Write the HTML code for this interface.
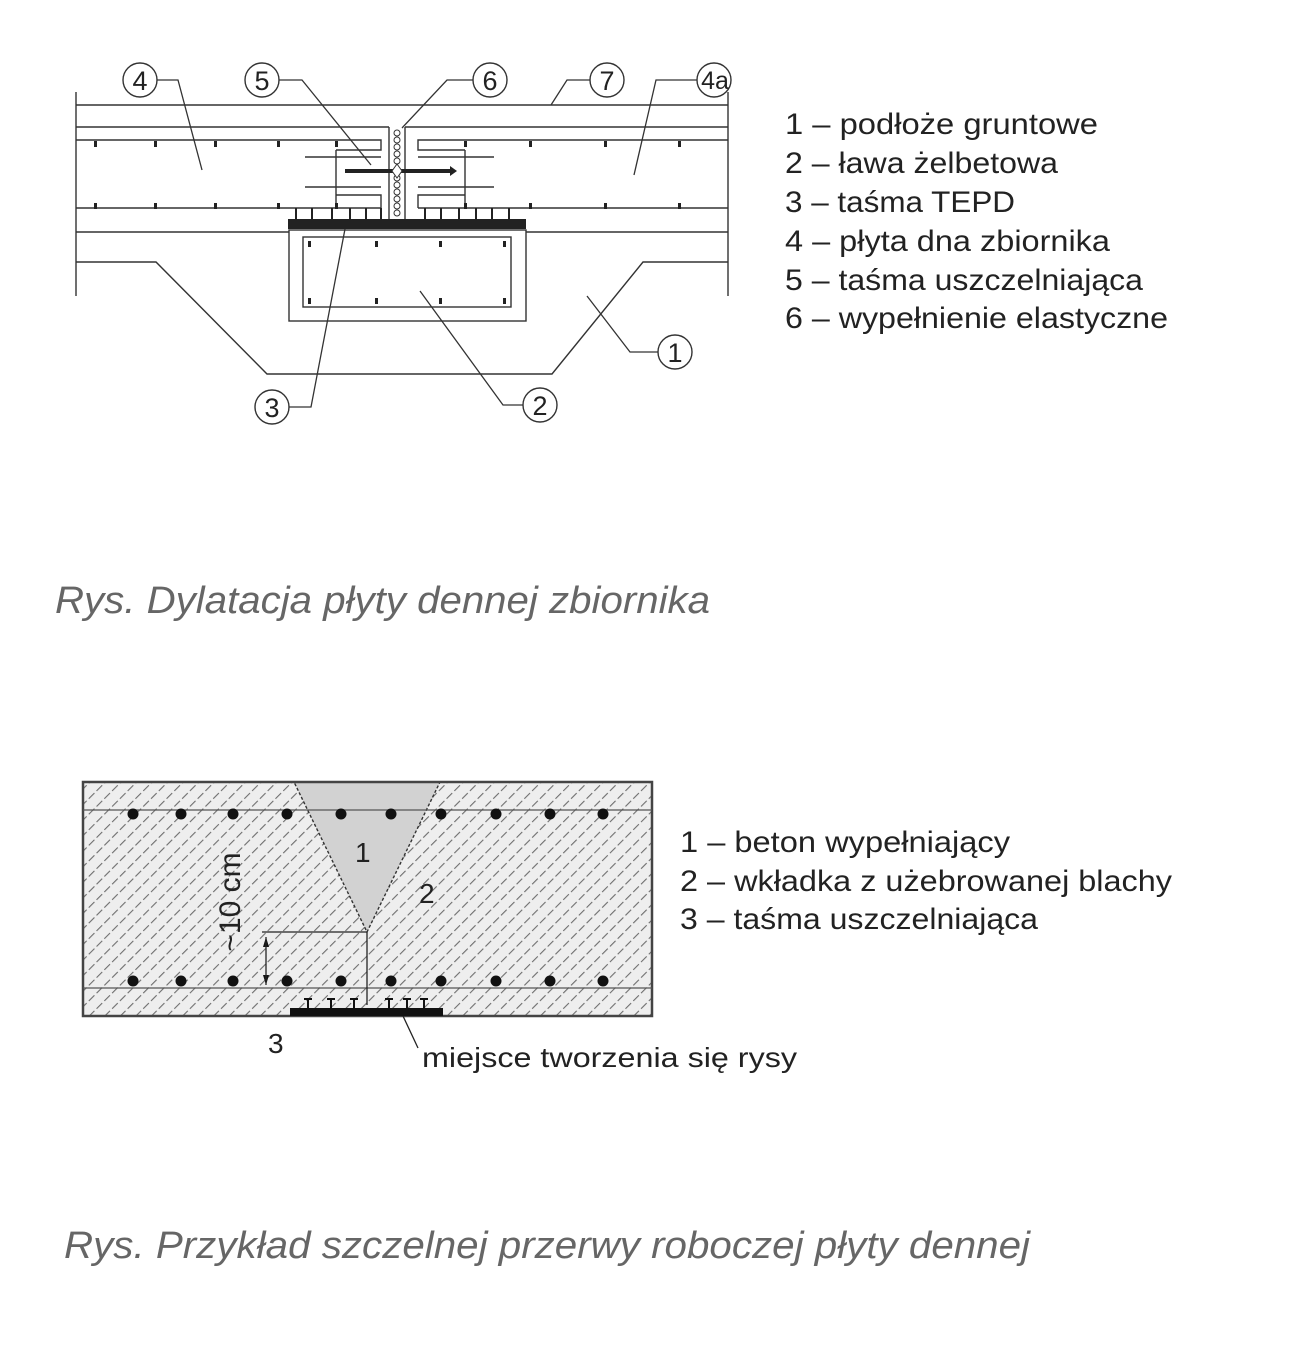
<!DOCTYPE html>
<html><head><meta charset="utf-8"><style>
html,body{margin:0;padding:0;background:#fff;}
svg{display:block}
</style></head><body>
<svg width="1290" height="1350" viewBox="0 0 1290 1350" xmlns="http://www.w3.org/2000/svg" font-family="Liberation Sans, sans-serif">
<defs>
<pattern id="h" width="11" height="11" patternUnits="userSpaceOnUse" patternTransform="rotate(45)">
<line x1="0" y1="0" x2="0" y2="11" stroke="#6e6e6e" stroke-width="2.2" stroke-dasharray="7 3"/>
</pattern>
</defs>
<g stroke="#333" stroke-width="1.4" fill="none">
<line x1="76" y1="92" x2="76" y2="296"/>
<line x1="728" y1="92" x2="728" y2="296"/>
<line x1="76" y1="105" x2="728" y2="105"/>
<line x1="76" y1="127" x2="389" y2="127"/>
<line x1="405" y1="127" x2="728" y2="127"/>
<path d="M76 140 H381 V150 H336"/>
<path d="M728 140 H418 V150 H465"/>
<line x1="305" y1="157" x2="381" y2="157"/>
<line x1="418" y1="157" x2="494" y2="157"/>
<line x1="305" y1="187" x2="381" y2="187"/>
<line x1="418" y1="187" x2="494" y2="187"/>
<path d="M336 195 H381 V208"/>
<path d="M465 195 H418 V208"/>
<line x1="336" y1="150" x2="336" y2="208"/>
<line x1="465" y1="150" x2="465" y2="208"/>
<line x1="76" y1="208" x2="381" y2="208"/>
<line x1="418" y1="208" x2="728" y2="208"/>
<line x1="76" y1="232" x2="289" y2="232"/>
<line x1="526" y1="232" x2="728" y2="232"/>
<rect x="289" y="230" width="237" height="91"/>
<rect x="303" y="237" width="208" height="70"/>
<path d="M76 262 H156 L267 374 H552 L643 262 H728"/>
<line x1="389" y1="127" x2="389" y2="220"/>
<line x1="405" y1="127" x2="405" y2="220"/>
</g>
<g fill="#222">
<g id="tk">
<rect x="94" y="141" width="3" height="6"/><rect x="154" y="141" width="3" height="6"/><rect x="214" y="141" width="3" height="6"/><rect x="277" y="141" width="3" height="6"/><rect x="335" y="141" width="3" height="6"/><rect x="464" y="141" width="3" height="6"/><rect x="529" y="141" width="3" height="6"/><rect x="604" y="141" width="3" height="6"/><rect x="678" y="141" width="3" height="6"/>
</g>
<use href="#tk" y="62"/>
<rect x="375" y="241" width="3" height="6"/><rect x="439" y="241" width="3" height="6"/><rect x="308" y="241" width="3" height="6"/><rect x="503" y="241" width="3" height="6"/>
<rect x="308" y="298" width="3" height="6"/><rect x="375" y="298" width="3" height="6"/><rect x="439" y="298" width="3" height="6"/><rect x="503" y="298" width="3" height="6"/>
<rect x="288" y="219" width="238" height="10"/>
<rect x="295" y="208" width="2" height="11"/><rect x="311" y="208" width="2" height="11"/><rect x="331" y="208" width="2" height="11"/><rect x="349" y="208" width="2" height="11"/><rect x="365" y="208" width="2" height="11"/><rect x="380" y="208" width="2" height="11"/>
<rect x="424" y="208" width="2" height="11"/><rect x="440" y="208" width="2" height="11"/><rect x="458" y="208" width="2" height="11"/><rect x="475" y="208" width="2" height="11"/><rect x="491" y="208" width="2" height="11"/><rect x="508" y="208" width="2" height="11"/>
<rect x="345" y="169" width="106" height="4"/>
<polygon points="450,166 457,171 450,176"/>
</g>
<g fill="#fff" stroke="#333" stroke-width="1">
<circle cx="397" cy="133" r="3"/><circle cx="397" cy="140" r="3"/><circle cx="397" cy="147" r="3"/><circle cx="397" cy="154" r="3"/><circle cx="397" cy="161" r="3"/><circle cx="397" cy="178" r="3"/><circle cx="397" cy="185" r="3"/><circle cx="397" cy="192" r="3"/><circle cx="397" cy="199" r="3"/><circle cx="397" cy="206" r="3"/><circle cx="397" cy="213" r="3"/>
<polygon points="397,164 402,171 397,178 392,171"/>
</g>
<g stroke="#333" stroke-width="1.3" fill="none">
<path d="M157 80 H178 L202 170"/>
<path d="M279 80 H302 L371 165"/>
<path d="M473 80 H447 L402 128"/>
<path d="M590 80 H567 L551 105"/>
<path d="M697 80 H656 L634 175"/>
<path d="M658 352 H630 L587 296"/>
<path d="M289 407 H311 L345 229"/>
<path d="M523 405 H503 L420 291"/>
</g>
<g fill="#fff" stroke="#333" stroke-width="1.4">
<circle cx="140" cy="80" r="17"/><circle cx="262" cy="80" r="17"/><circle cx="490" cy="80" r="17"/><circle cx="607" cy="80" r="17"/><circle cx="714" cy="80" r="17"/><circle cx="675" cy="352" r="17"/><circle cx="272" cy="407" r="17"/><circle cx="540" cy="405" r="17"/>
</g>
<g font-size="27" fill="#222" text-anchor="middle">
<text x="140" y="90">4</text><text x="262" y="90">5</text><text x="490" y="90">6</text><text x="607" y="90">7</text><text x="715" y="89" font-size="25">4a</text><text x="675" y="362">1</text><text x="272" y="417">3</text><text x="540" y="415">2</text>
</g>
<g font-size="30" fill="#222">
<text x="785" y="134" textLength="313" lengthAdjust="spacingAndGlyphs">1 – podłoże gruntowe</text>
<text x="785" y="173" textLength="273" lengthAdjust="spacingAndGlyphs">2 – ława żelbetowa</text>
<text x="785" y="212" textLength="230" lengthAdjust="spacingAndGlyphs">3 – taśma TEPD</text>
<text x="785" y="251" textLength="325" lengthAdjust="spacingAndGlyphs">4 – płyta dna zbiornika</text>
<text x="785" y="290" textLength="358" lengthAdjust="spacingAndGlyphs">5 – taśma uszczelniająca</text>
<text x="785" y="328" textLength="383" lengthAdjust="spacingAndGlyphs">6 – wypełnienie elastyczne</text>
</g>
<text x="55" y="613" font-size="38" font-style="italic" fill="#666" textLength="655" lengthAdjust="spacingAndGlyphs">Rys. Dylatacja płyty dennej zbiornika</text>

<rect x="83" y="782" width="569" height="234" fill="#eeeeee"/>
<rect x="83" y="782" width="569" height="234" fill="url(#h)"/>
<polygon points="294,782 440,782 367,932" fill="#d2d2d2" stroke="#333" stroke-width="1.4" stroke-dasharray="3 2"/>
<rect x="83" y="782" width="569" height="234" fill="none" stroke="#444" stroke-width="2.5"/>
<line x1="83" y1="810" x2="652" y2="810" stroke="#555" stroke-width="1.3"/>
<line x1="83" y1="988" x2="652" y2="988" stroke="#555" stroke-width="1.3"/>
<g fill="#111">
<circle cx="133" cy="814" r="5.5"/><circle cx="181" cy="814" r="5.5"/><circle cx="233" cy="814" r="5.5"/><circle cx="287" cy="814" r="5.5"/><circle cx="341" cy="814" r="5.5"/><circle cx="391" cy="814" r="5.5"/><circle cx="441" cy="814" r="5.5"/><circle cx="496" cy="814" r="5.5"/><circle cx="550" cy="814" r="5.5"/><circle cx="603" cy="814" r="5.5"/>
<circle cx="133" cy="981" r="5.5"/><circle cx="181" cy="981" r="5.5"/><circle cx="233" cy="981" r="5.5"/><circle cx="287" cy="981" r="5.5"/><circle cx="341" cy="981" r="5.5"/><circle cx="391" cy="981" r="5.5"/><circle cx="441" cy="981" r="5.5"/><circle cx="496" cy="981" r="5.5"/><circle cx="550" cy="981" r="5.5"/><circle cx="603" cy="981" r="5.5"/>
<rect x="290" y="1008" width="153" height="8"/>
<rect x="304" y="998" width="8" height="2"/><rect x="307" y="998" width="2" height="10"/>
<rect x="327" y="998" width="8" height="2"/><rect x="330" y="998" width="2" height="10"/>
<rect x="350" y="998" width="8" height="2"/><rect x="353" y="998" width="2" height="10"/>
<rect x="385" y="998" width="8" height="2"/><rect x="388" y="998" width="2" height="10"/>
<rect x="403" y="998" width="8" height="2"/><rect x="406" y="998" width="2" height="10"/>
<rect x="420" y="998" width="8" height="2"/><rect x="423" y="998" width="2" height="10"/>
<polygon points="266,937 263,947 269,947"/>
<polygon points="266,985 263,975 269,975"/>
</g>
<g stroke="#222" stroke-width="1.3" fill="none">
<line x1="367" y1="932" x2="367" y2="1005"/>
<path d="M262 932 H367"/>
<line x1="266" y1="937" x2="266" y2="985"/>
<path d="M403 1016 L418 1048"/>
</g>
<text x="248" y="910" font-size="30" fill="#222" text-anchor="middle" transform="rotate(-90 240 910)">~10 cm</text>
<g font-size="28" fill="#222">
<text x="355" y="862">1</text><text x="419" y="903">2</text><text x="268" y="1053">3</text>
<text x="422" y="1067" textLength="375" lengthAdjust="spacingAndGlyphs">miejsce tworzenia się rysy</text>
</g>
<g font-size="30" fill="#222">
<text x="680" y="852" textLength="330" lengthAdjust="spacingAndGlyphs">1 – beton wypełniający</text>
<text x="680" y="891" textLength="492" lengthAdjust="spacingAndGlyphs">2 – wkładka z użebrowanej blachy</text>
<text x="680" y="929" textLength="358" lengthAdjust="spacingAndGlyphs">3 – taśma uszczelniająca</text>
</g>
<text x="64" y="1258" font-size="38" font-style="italic" fill="#666" textLength="966" lengthAdjust="spacingAndGlyphs">Rys. Przykład szczelnej przerwy roboczej płyty dennej</text>
</svg>
</body></html>
